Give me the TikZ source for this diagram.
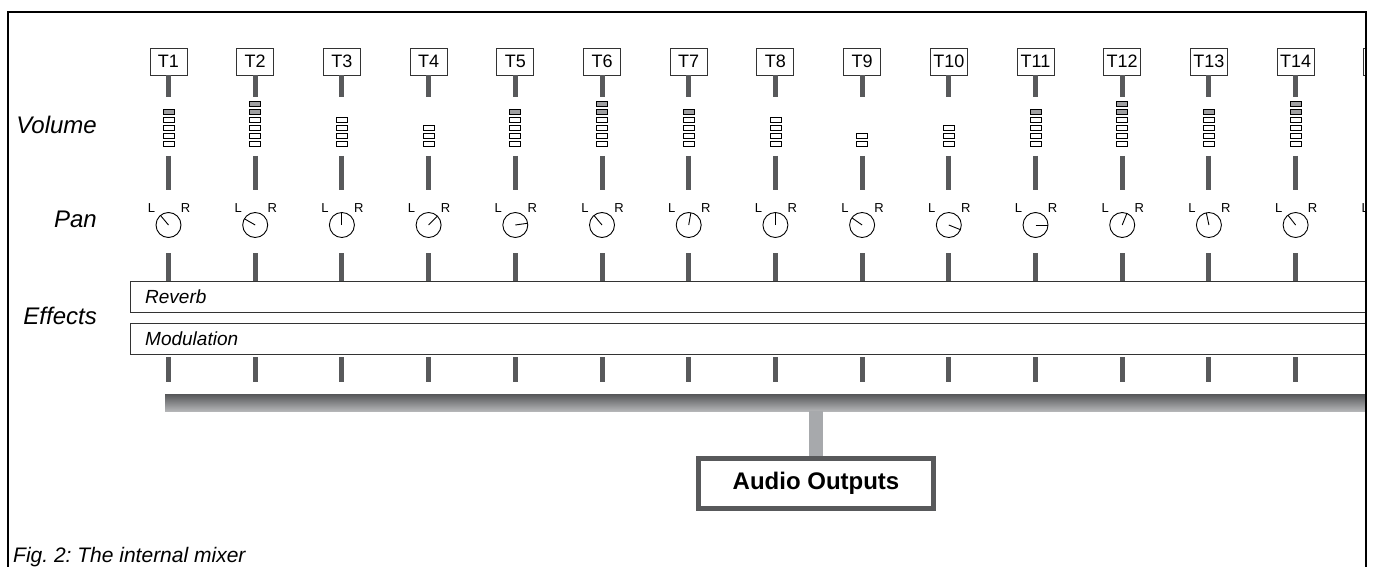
\documentclass[tikz,border=0pt]{standalone}
\usepackage{fontspec}
\setmainfont{Liberation Sans}
\definecolor{stemc}{HTML}{58595B}
\definecolor{segg}{HTML}{A0A0A2}
\definecolor{stubc}{HTML}{A7A9AC}
\definecolor{busdark}{HTML}{555658}
\definecolor{buslight}{HTML}{B4B5B7}
\definecolor{edgec}{HTML}{333333}
\begin{document}
\begin{tikzpicture}[x=1bp,y=-1bp,
  tbox/.style={draw=edgec,line width=0.9bp,minimum width=37bp,minimum height=27bp,inner sep=0pt,font=\fontsize{18bp}{20bp}\selectfont},
  stem/.style={draw=stemc,line width=5bp},
  seg/.style={draw=black,line width=0.7bp},
  knob/.style={circle,draw=black,line width=0.9bp,minimum size=25bp,inner sep=0pt},
  lr/.style={font=\fontsize{13bp}{14bp}\selectfont,inner sep=0pt},
  rowlab/.style={anchor=east,inner sep=0pt,font=\fontsize{24bp}{26bp}\itshape},
  fxbar/.style={draw=edgec,line width=0.8bp},
  fxlab/.style={anchor=west,inner sep=0pt,font=\fontsize{19bp}{21bp}\itshape},
  frame/.style={draw=black,line width=2bp}]
\useasboundingbox (0,0) rectangle (1373,567);
% row labels
\node[rowlab] (vol) at (97,125) {Volume};
\node[rowlab] (pan) at (97,219) {Pan};
\node[rowlab] (eff) at (97,316) {Effects};
\begin{scope}
\clip (0,0) rectangle (1366,567);
% effects bars
\draw[fxbar] (130,281) rectangle (1380,312);
\draw[fxbar] (130,323) rectangle (1380,354);
\coordinate (revtop) at (130,281);
\coordinate (modbot) at (130,357);
\node[fxlab] (rev) at (145,297) {Reverb};
\node[fxlab] (mod) at (145,339) {Modulation};
% bus
\shade[top color=busdark,bottom color=buslight] (165,394) rectangle (1380,411);
% channels
\foreach \i/\n/\g/\a/\txt in {1/5/1/130/T1,2/6/2/150/T2,3/4/0/90/T3,4/3/0/45/T4,5/5/1/8/T5,6/6/2/130/T6,7/5/1/80/T7,8/4/0/90/T8,9/2/0/145/T9,10/3/0/-22/T10,11/5/1/0/T11,12/6/2/68/T12,13/5/1/102/T13,14/6/2/128/T14,15/5/1/90/}{
  \pgfmathsetmacro\cx{168.5+(\i-1)*86.7}
  \pgfmathtruncatemacro\gs{\n-\g}
  \node[tbox] (t\i) at (\cx,61.5) {\txt};
  \coordinate (mt\i) at (\cx,97);
  \draw[stem] (t\i.south) -- (mt\i);
  \foreach \k in {1,...,\n}{
    \ifnum\k>\gs\relax\def\fc{segg}\else\def\fc{white}\fi
    \draw[seg,fill=\fc] (\cx-5.5,149-8*\k) rectangle (\cx+5.5,154-8*\k);
  }
  \node[knob] (k\i) at (\cx,225) {};
  \coordinate (mb\i) at (\cx,156);
  \coordinate (kt\i) at (\cx,190);
  \draw[stem] (mb\i) -- (kt\i);
  \draw[line width=0.9bp] (k\i.center) -- ++(\a:12.5bp);
  \node[lr] (l\i) at (\cx-17,208) {L};
  \node[lr] (r\i) at (\cx+17,208) {R};
  \coordinate (kb\i) at (\cx,253);
  \coordinate (bb\i) at (\cx,382);
  \draw[stem] (kb\i) -- (kb\i |- revtop);
  \draw[stem] (bb\i |- modbot) -- (bb\i);
}
\end{scope}
% output
\node[draw=stemc,line width=5bp,minimum width=235bp,minimum height=50bp,inner sep=0pt,font=\fontsize{24bp}{26bp}\bfseries] (out) at (816,483.5) {Audio Outputs};
\draw[stubc,line width=14bp] (816,411) -- (out.north);
% caption
\node[anchor=base west,inner sep=0pt,font=\fontsize{21bp}{23bp}\itshape] (cap) at (13,562) {Fig.~2:~The internal mixer};
% frame
\draw[frame] (8,567) -- (8,12) -- (1366,12) -- (1366,567);
\end{tikzpicture}
\end{document}
